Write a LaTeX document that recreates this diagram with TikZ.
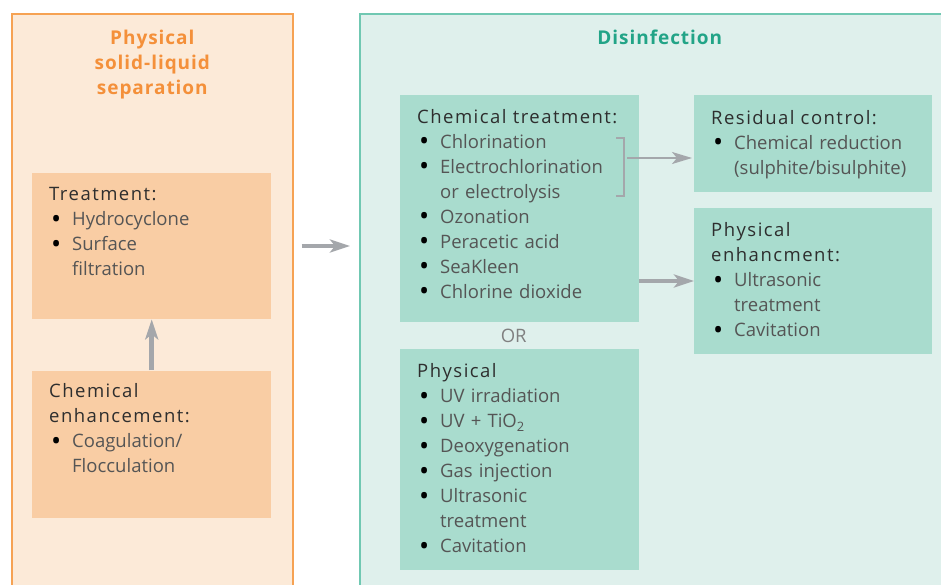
\documentclass[tikz,border=0pt]{standalone}
\usepackage{fontspec}
\setmainfont{Open Sans}
\newfontfamily\headfont[LetterSpace=8]{Open Sans}
\newfontfamily\titlefont[LetterSpace=5]{Open Sans}
\usepackage{enumitem}
\usepackage{tikz}
\usetikzlibrary{arrows.meta,positioning,fit}
\usepackage{xcolor}

\definecolor{sepline}{HTML}{F6A253}
\definecolor{sepfill}{HTML}{FCEAD8}
\definecolor{sepbox}{HTML}{F9CDA4}
\definecolor{septitle}{HTML}{F4903A}
\definecolor{disline}{HTML}{70C8B2}
\definecolor{disfill}{HTML}{DFF0EC}
\definecolor{disbox}{HTML}{A9DCCE}
\definecolor{distitle}{HTML}{22A487}
\definecolor{arrowgray}{HTML}{A4A7AB}
\definecolor{headgray}{HTML}{2E2E2E}
\definecolor{itemgray}{HTML}{555555}

\setlist[itemize]{nosep,leftmargin=23pt,labelwidth=12pt,labelsep=11pt,label={\color{black}\fontsize{27}{25}\selectfont\raisebox{-2.6pt}{\textbullet}}}
\newcommand{\boxhead}[1]{{\headfont\color{headgray}#1}\par}

\tikzset{
	boxtext/.style={anchor=north west,inner sep=0pt,text width=215pt,align=left,text=itemgray,font=\fontsize{18.5}{25}\selectfont},
	bigtitle/.style={anchor=north,inner sep=0pt,align=center,font=\titlefont\bfseries\fontsize{19}{25}\selectfont},
	flow/.style={-{Stealth[length=20pt,width=13pt,inset=5pt]},line width=4.5pt}
}

\begin{document}
\begin{tikzpicture}[x=1pt,y=-1pt]
	\useasboundingbox (0,0) rectangle (941,585);
	\clip (0,0) rectangle (941,585);
	\begin{scope}[every node/.style={rectangle,anchor=north west,inner sep=0pt}]
		\node[draw=sepline,fill=sepfill,line width=1.6pt,minimum width=281pt,minimum height=600pt] (Sep) at (11,13) {};
		\node[draw=disline,fill=disfill,line width=1.6pt,minimum width=600pt,minimum height=600pt] (Dis) at (359,13) {};

		\node[fill=sepbox,minimum width=239pt,minimum height=146pt] (Treat) at (32,173) {};
		\node[fill=sepbox,minimum width=239pt,minimum height=147pt,below=51pt of Treat] (ChemEnh) {};

		\node[fill=disbox,minimum width=239pt,minimum height=227pt] (ChemT) at (400,95) {};
		\node[fill=disbox,minimum width=239pt,minimum height=221pt,below=26pt of ChemT] (Phys) {};
		\node[fill=disbox,minimum width=238pt,minimum height=97pt] (Resid) at (694,95) {};
		\node[fill=disbox,minimum width=238pt,minimum height=146pt,below=15pt of Resid] (PhysEnh) {};
		\node[below=6pt of ChemT,xshift=-6pt,text=gray,font=\fontsize{18.5}{25}\selectfont] (Or) {OR};
	\end{scope}

	\node[bigtitle,text=septitle] (SepTitle) at ([yshift=-17pt]Sep.north) {Physical\\solid-liquid\\separation};
	\node[bigtitle,text=distitle] (DisTitle) at ([yshift=-17pt]Dis.north) {Disinfection};

	\node[boxtext] (TreatTxt) at ([xshift=17pt,yshift=-14pt]Treat.north west) {\boxhead{Treatment:}
		\begin{itemize}
			\item Hydrocyclone
			\item Surface\\filtration
		\end{itemize}};
	\node[boxtext] (ChemEnhTxt) at ([xshift=17pt,yshift=-13pt]ChemEnh.north west) {\boxhead{Chemical\\enhancement:}
		\begin{itemize}
			\item Coagulation/\\Flocculation
		\end{itemize}};
	\node[boxtext] (ChemTTxt) at ([xshift=17pt,yshift=-14pt]ChemT.north west) {\boxhead{Chemical treatment:}
		\begin{itemize}
			\item Chlorination
			\item Electrochlorination\\or electrolysis
			\item Ozonation
			\item Peracetic acid
			\item SeaKleen
			\item Chlorine dioxide
		\end{itemize}};
	\node[boxtext] (PhysTxt) at ([xshift=17pt,yshift=-15pt]Phys.north west) {\boxhead{Physical}
		\begin{itemize}
			\item UV irradiation
			\item UV + TiO\textsubscript{2}
			\item Deoxygenation
			\item Gas injection
			\item Ultrasonic\\treatment
			\item Cavitation
		\end{itemize}};
	\node[boxtext] (ResidTxt) at ([xshift=17pt,yshift=-15pt]Resid.north west) {\boxhead{Residual control:}
		\begin{itemize}
			\item Chemical reduction\\(sulphite/bisulphite)
		\end{itemize}};
	\node[boxtext] (PhysEnhTxt) at ([xshift=17pt,yshift=-15pt]PhysEnh.north west) {\boxhead{Physical\\enhancment:}
		\begin{itemize}
			\item Ultrasonic\\treatment
			\item Cavitation
		\end{itemize}};

	\begin{scope}[draw=arrowgray]
		\coordinate (MainArr) at (300,246);
		\coordinate (Brk) at (624,158);
		\coordinate (EnhArr) at (639,281);
		\draw[flow,shorten <=8pt,shorten >=9pt] (Sep.east |- MainArr) -- (Dis.west |- MainArr);
		\draw[flow,line width=5.5pt] (ChemEnh) -- (Treat);
		\draw[line width=2.2pt] (616,138) -- (624,138) -- (624,196) -- (616,196);
		\draw[-{Stealth[length=20pt,width=12pt,inset=5pt]},line width=2pt,shorten <=3pt,shorten >=2pt] (Brk) -- (Brk -| Resid.west);
		\draw[flow] (ChemT.east |- EnhArr) -- (PhysEnh.west |- EnhArr);
	\end{scope}
\end{tikzpicture}
\end{document}
